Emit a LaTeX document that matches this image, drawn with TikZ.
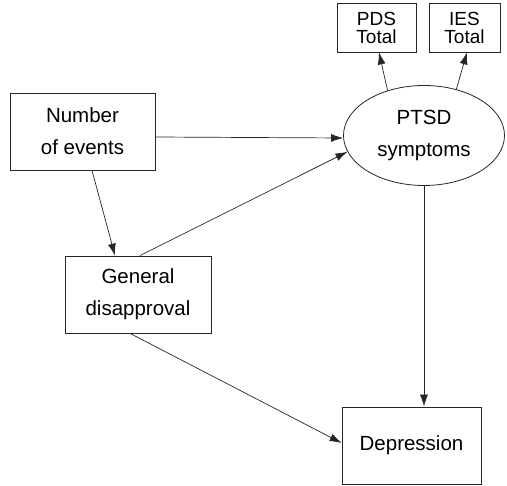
\documentclass[tikz,border=0pt]{standalone}
\usepackage{fontspec}
\setmainfont{Liberation Sans}
\usetikzlibrary{arrows.meta,shapes.geometric}
\begin{document}
\begin{tikzpicture}[x=1pt,y=-1pt,
  box/.style={draw=black!85,line width=0.8pt,align=center,inner sep=0pt,font=\fontsize{20.5}{32}\selectfont},
  sbox/.style={draw=black!85,line width=0.8pt,align=center,inner sep=0pt,font=\fontsize{19}{18}\selectfont},
  conn/.style={draw=black!85,line width=0.7pt,-{Latex[length=12pt,width=8pt]}}]
\useasboundingbox (0,0) rectangle (507,486);
\node[box,minimum width=145pt,minimum height=77pt] (num) at (82.5,131.5) {Number\\of events};
\node[box,minimum width=146pt,minimum height=77pt] (gen) at (138,294.5) {General\\disapproval};
\node[box,minimum width=139pt,minimum height=77pt] (dep) at (411.5,445.5) {Depression};
\node[box,ellipse,minimum width=161pt,minimum height=100pt] (ptsd) at (424,135.5) {PTSD\\symptoms};
\node[sbox,minimum width=79pt,minimum height=49pt] (pds) at (376.5,27.5) {PDS\\Total};
\node[sbox,minimum width=71pt,minimum height=49pt] (ies) at (464.5,27.5) {IES\\Total};
\draw[conn] ([yshift=-5.5pt]num.east) -- ([yshift=-2.5pt]ptsd.west);
\draw[conn] ([xshift=9.5pt]num.south) -- ([xshift=-23pt]gen.north);
\draw[conn] ([xshift=2pt]gen.north) -- (ptsd.192);
\draw[conn] ([xshift=-8pt]gen.south) -- ([yshift=2.5pt]dep.west);
\draw[conn] (ptsd.south) -- (ptsd.south |- dep.north);
\draw[conn] (ptsd.129) -- ([xshift=2.5pt]pds.south);
\draw[conn] (ptsd.55) -- ([xshift=2.5pt]ies.south);
\end{tikzpicture}
\end{document}
